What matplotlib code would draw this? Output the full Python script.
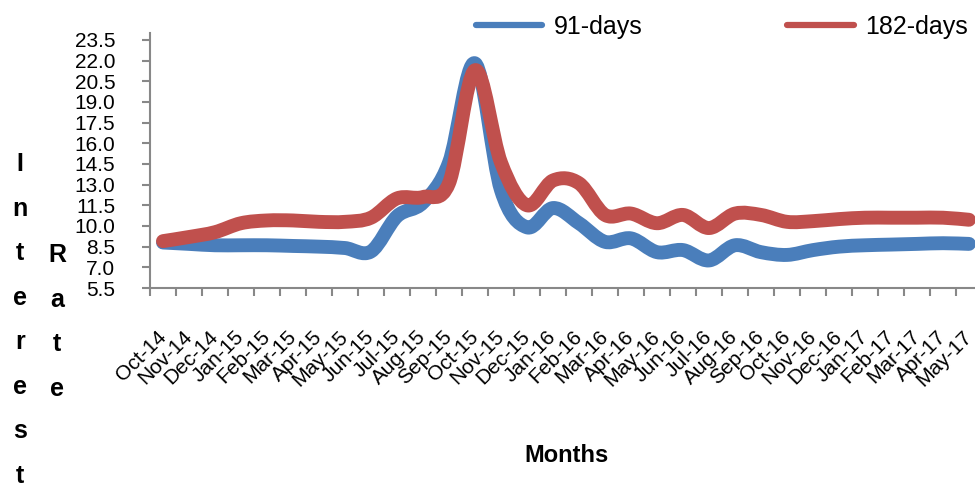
import numpy as np
import matplotlib
matplotlib.use("Agg")
import matplotlib.pyplot as plt
from matplotlib.path import Path
from matplotlib.patches import PathPatch
from matplotlib.lines import Line2D

months = ["Oct-14", "Nov-14", "Dec-14", "Jan-15", "Feb-15", "Mar-15", "Apr-15", "May-15",
          "Jun-15", "Jul-15", "Aug-15", "Sep-15", "Oct-15", "Nov-15", "Dec-15", "Jan-16",
          "Feb-16", "Mar-16", "Apr-16", "May-16", "Jun-16", "Jul-16", "Aug-16", "Sep-16",
          "Oct-16", "Nov-16", "Dec-16", "Jan-17", "Feb-17", "Mar-17", "Apr-17", "May-17"]
days91 = [8.8, 8.7, 8.6, 8.6, 8.6, 8.55, 8.5, 8.4, 8.15, 10.7, 11.7, 14.6, 21.8, 12.6,
          9.9, 11.3, 10.2, 8.85, 9.1, 8.1, 8.25, 7.5, 8.6, 8.1, 7.9, 8.25, 8.5, 8.6,
          8.65, 8.7, 8.75, 8.7]
days182 = [8.9, 9.2, 9.55, 10.2, 10.4, 10.4, 10.3, 10.3, 10.6, 12.0, 12.1, 13.1, 21.3,
           14.6, 11.5, 13.3, 13.1, 10.8, 10.9, 10.2, 10.8, 9.85, 10.9, 10.8, 10.3, 10.35,
           10.5, 10.6, 10.6, 10.6, 10.6, 10.45]
yticks = [5.5, 7.0, 8.5, 10.0, 11.5, 13.0, 14.5, 16.0, 17.5, 19.0, 20.5, 22.0, 23.5]

blue = "#4A7EBB"
red = "#C0504D"
grey = "#888888"
narrow = ["Liberation Sans Narrow", "Liberation Sans", "DejaVu Sans"]
plt.rcParams["font.family"] = ["Liberation Sans", "DejaVu Sans"]


def smooth_path(x, y):
    # excel-like smoothed line: catmull-rom segments as cubic beziers
    pts = np.column_stack([x, y])
    verts = [pts[0]]
    codes = [Path.MOVETO]
    n = len(pts)
    for i in range(n - 1):
        p0 = pts[i - 1] if i > 0 else pts[i]
        p1 = pts[i]
        p2 = pts[i + 1]
        p3 = pts[i + 2] if i + 2 < n else pts[i + 1]
        c1 = p1 + (p2 - p0) / 6.0
        c2 = p2 - (p3 - p1) / 6.0
        verts += [c1, c2, p2]
        codes += [Path.CURVE4] * 3
    return Path(verts, codes)


fig = plt.figure(figsize=(9.75, 4.91), dpi=100)
ax = fig.add_axes([150 / 975, 1 - 288 / 491, 832 / 975, 255 / 491])

x = np.arange(len(months)) + 0.5
for vals, col in [(days91, blue), (days182, red)]:
    ax.add_patch(PathPatch(smooth_path(x, vals), fill=False, edgecolor=col, lw=10,
                           capstyle="round", joinstyle="round"))

ax.set_xlim(0, len(months))
ax.set_ylim(5.5, 24.0)
ax.set_yticks(yticks)
ax.set_yticklabels([f"{v:.1f}" for v in yticks], family=narrow, fontsize=15)
ax.set_xticks(np.arange(len(months) + 1))
ax.set_xticklabels([])
ax.set_xticks(x, minor=True)
ax.set_xticklabels(months, minor=True, rotation=45, ha="right", va="center",
                   rotation_mode="anchor", family=narrow, fontsize=15)
ax.tick_params(axis="x", which="major", direction="out", length=6, width=1.5, color=grey)
ax.tick_params(axis="x", which="minor", length=0, pad=33)
ax.tick_params(axis="y", direction="out", length=6, width=1.5, color=grey, pad=19)

for s in ["top", "right"]:
    ax.spines[s].set_visible(False)
for s in ["left", "bottom"]:
    ax.spines[s].set_color(grey)
    ax.spines[s].set_linewidth(1.5)

fig.text(567 / 975, 1 - 456 / 491, "Months", ha="center", va="center",
         fontsize=17, fontweight="bold", family=narrow)
fig.text(20 / 975, 1 - 320 / 491, "\n".join("Interest"), ha="center", va="center",
         fontsize=18, fontweight="bold", family=narrow, linespacing=2.08)
fig.text(57 / 975, 1 - 322 / 491, "\n".join("Rate"), ha="center", va="center",
         fontsize=18, fontweight="bold", family=narrow, linespacing=2.08)

handles = [Line2D([], [], color=blue, lw=4.5, solid_capstyle="round"),
           Line2D([], [], color=red, lw=4.5, solid_capstyle="round")]
fig.legend(handles, ["91-days", "182-days"], ncol=2, loc="center left",
           bbox_to_anchor=(476 / 975, 1 - 27 / 491), frameon=False, fontsize=18,
           handlelength=2.65, handletextpad=0.45, columnspacing=5.8, borderpad=0,
           borderaxespad=0)

fig.savefig("out.png", dpi=100)
